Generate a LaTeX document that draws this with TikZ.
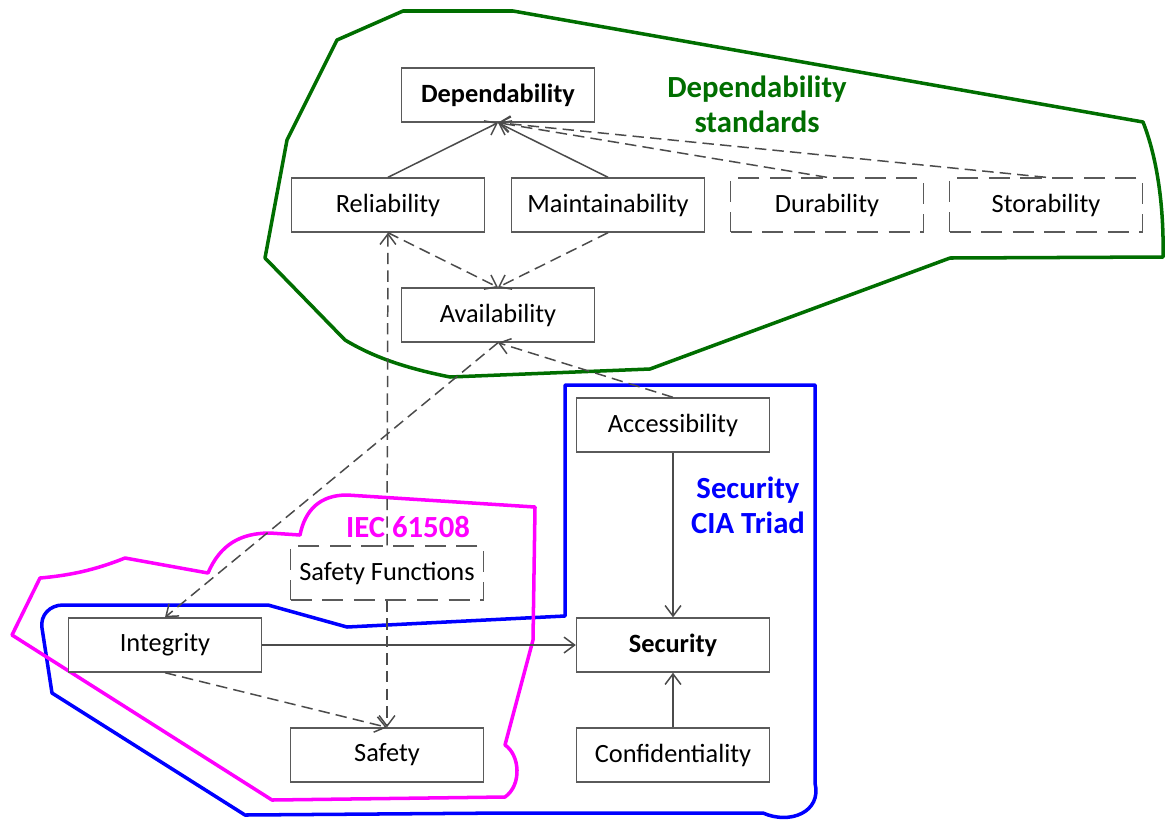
\documentclass[tikz,border=0pt]{standalone}
\usepackage{fontspec}
\setmainfont{Carlito}
\usetikzlibrary{arrows.meta}
\definecolor{dgreen}{RGB}{0,110,0}
\definecolor{pureblue}{RGB}{0,0,255}
\definecolor{puremagenta}{RGB}{255,0,255}
\definecolor{boxgray}{RGB}{90,90,90}
\definecolor{linkgray}{RGB}{75,75,75}
\begin{document}
\begin{tikzpicture}[x=0.02cm,y=-0.02cm,
  blk/.style={draw=boxgray, line width=0.8pt, fill=white, minimum width=3.86cm,
    minimum height=1.08cm, inner sep=0pt, font=\fontsize{15}{18}\selectfont},
  bblk/.style={blk, font=\fontsize{15}{18}\selectfont\bfseries},
  dblk/.style={blk, dash pattern=on 12pt off 6pt},
  link/.style={draw=linkgray, line width=0.85pt, -{Straight Barb[length=6pt,width=9pt]}},
  dlink/.style={link, dash pattern=on 6.5pt off 3.5pt},
  region/.style={line width=2pt, line join=round},
  tag/.style={font=\fontsize{17.5}{20}\selectfont\bfseries, align=center}]
\useasboundingbox (0,0) rectangle (1165,822);

% group outlines
\draw[region, dgreen] (337,40) -- (403,11) -- (513,11) -- (1143,122)
  .. controls (1158,160) and (1164,210) .. (1163,257) -- (950,258) -- (650,369)
  -- (450,377) .. controls (400,367) and (370,355) .. (345,340) -- (265,258)
  -- (287,140) -- cycle;
\draw[region, pureblue] (565,385) -- (815,385) -- (815,783)
  .. controls (822,812) and (790,825) .. (763,813) -- (507,813) -- (245,815)
  -- (52,693) -- (42,628) .. controls (40,615) and (50,605) .. (63,605)
  -- (268,605) -- (347,627) -- (565,616) -- cycle;
\draw[region, puremagenta] (12,635) -- (40,578) .. controls (75,575) and (100,568) .. (125,558)
  -- (208,573) .. controls (220,545) and (240,533) .. (270,533) -- (300,535)
  .. controls (305,510) and (320,495) .. (347,495) -- (535,507) -- (533,640)
  -- (505,745) .. controls (520,755) and (522,785) .. (505,797) -- (272,800) -- cycle;

% group labels
\node[tag, dgreen] (dstd) at (757,104) {Dependability\\standards};
\node[tag, puremagenta] (iec) at (408,527) {IEC 61508};
\node[tag, pureblue] (cia) at (748,505) {Security\\CIA Triad};

% concepts
\node[bblk] (dep) at (498,95) {Dependability};
\node[blk] (rel) at (388,205) {Reliability};
\node[blk] (mai) at (608,205) {Maintainability};
\node[dblk] (dur) at (827,205) {Durability};
\node[dblk] (sto) at (1046,205) {Storability};
\node[blk] (ava) at (498,315) {Availability};
\node[blk] (acc) at (673,425) {Accessibility};
\node[dblk] (sfn) at (387,573) {Safety Functions};
\node[blk] (int) at (165,645) {Integrity};
\node[bblk] (sec) at (673,645) {Security};
\node[blk] (saf) at (387,755) {Safety};
\node[blk] (con) at (673,755) {Confidentiality};

% relations
\draw[link] (rel.north) -- (dep.south);
\draw[link] (mai.north) -- (dep.south);
\draw[dlink] (dur.north) -- (dep.south);
\draw[dlink] (sto.north) -- (dep.south);
\draw[dlink] (rel.south) -- (ava.north);
\draw[dlink] (mai.south) -- (ava.north);
\draw[dlink] (acc.north) -- (ava.south);
\draw[dlink] (ava.south) -- (int.north);
\draw[dlink] (sfn.north) -- (rel.south);
\draw[dlink] (sfn.south) -- (saf.north);
\draw[dlink] (int.south) -- (saf.north);
\draw[link] (int.east) -- (sec.west);
\draw[link] (acc.south) -- (sec.north);
\draw[link] (con.north) -- (sec.south);
\end{tikzpicture}
\end{document}
